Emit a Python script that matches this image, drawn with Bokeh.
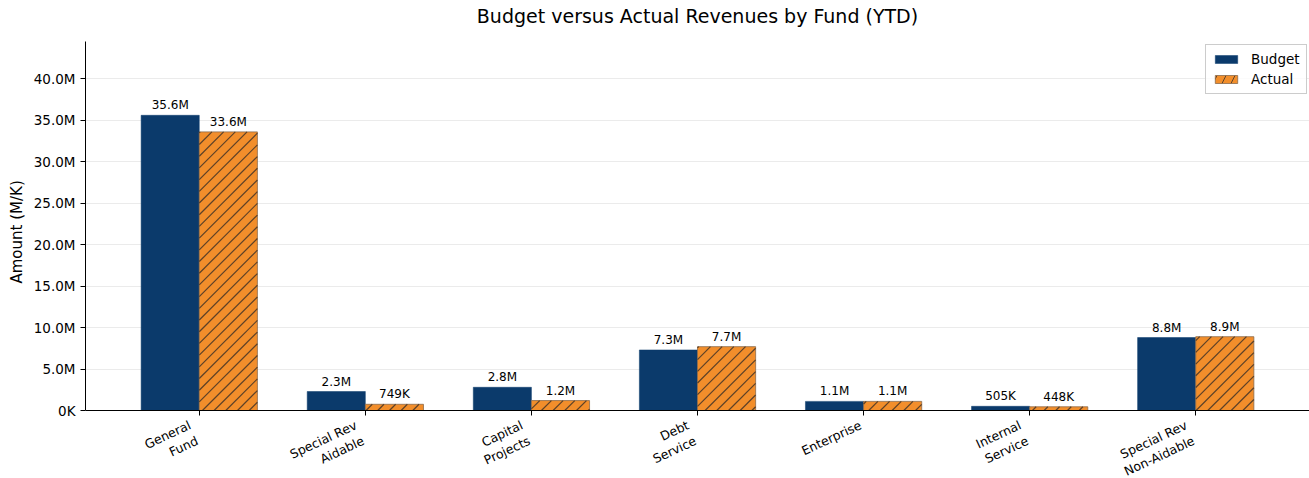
import numpy as np
from bokeh.plotting import figure
from bokeh.models import ColumnDataSource, FixedTicker, Range1d, Legend, LegendItem, Title
from bokeh.core.properties import value
from bokeh.embed import file_html
from bokeh.resources import INLINE

title_text = "Budget versus Actual Revenues by Fund (YTD)"
categories = ["General\nFund", "Special Rev\nAidable", "Capital\nProjects", "Debt\nService",
              "Enterprise", "Internal\nService", "Special Rev\nNon-Aidable"]
budget = [35.6e6, 2.29e6, 2.8e6, 7.3e6, 1.1e6, 0.505e6, 8.8e6]
actual = [33.6e6, 0.749e6, 1.2e6, 7.7e6, 1.1e6, 0.448e6, 8.9e6]
budget_labels = ["35.6M", "2.3M", "2.8M", "7.3M", "1.1M", "505K", "8.8M"]
actual_labels = ["33.6M", "749K", "1.2M", "7.7M", "1.1M", "448K", "8.9M"]
y_ticks = [0, 5e6, 10e6, 15e6, 20e6, 25e6, 30e6, 35e6, 40e6]
y_tick_labels = ["0K", "5.0M", "10.0M", "15.0M", "20.0M", "25.0M", "30.0M", "35.0M", "40.0M"]

FONT = "DejaVu Sans"
BUDGET_COLOR = "#0B3A6B"
ACTUAL_COLOR = "#F28E2B"
HATCH_COLOR = "#5c4128"
EDGE_COLOR = "#8a6a4a"
W = 0.35
Y_MAX = 44.5e6
X_MIN, X_MAX = -0.685, 6.685

# layout (pixels)
WIDTH, HEIGHT = 1309, 478
B_LEFT = 84
AXIS_TOP = 41                     # screen row where the y axis ends
AXIS_Y = 410                      # screen row of the zero line
PPX = (WIDTH - B_LEFT) / (X_MAX - X_MIN)
PPY = (AXIS_Y - AXIS_TOP) / Y_MAX
Y_MIN = -(HEIGHT - AXIS_Y) / PPY  # frame extends below zero to hold the tick labels
Y_TOP = Y_MAX + AXIS_TOP / PPY    # ...and above the axis to hold the title

x = np.arange(len(categories))
src = ColumnDataSource(dict(
    xb=x - W / 2, xa=x + W / 2, budget=budget, actual=actual,
    bl=budget_labels, al=actual_labels,
))

p = figure(width=WIDTH, height=HEIGHT, output_backend="svg", toolbar_location=None,
           x_range=Range1d(X_MIN, X_MAX), y_range=Range1d(Y_MIN, Y_TOP),
           min_border_left=B_LEFT, min_border_right=0, min_border_top=0,
           min_border_bottom=0)
p.outline_line_color = None

p.xgrid.grid_line_color = None
p.ygrid.grid_line_color = "#ebebeb"
p.ygrid.grid_line_width = 1

# chart title, centred over the plot area
p.text(x=[(X_MIN + X_MAX) / 2], y=[Y_MAX], text=[title_text], text_align="center",
       text_baseline="bottom", y_offset=-14.5, text_font=value(FONT),
       text_font_size="19px", text_color="#000000")

rb = p.vbar(x="xb", top="budget", width=W, bottom=0, source=src,
            fill_color=BUDGET_COLOR, line_color=BUDGET_COLOR, line_width=0.5)
ra = p.vbar(x="xa", top="actual", width=W, bottom=0, source=src,
            fill_color=ACTUAL_COLOR, line_color=EDGE_COLOR, line_width=0.8)

# 45-degree hatch lines clipped to each "Actual" bar
SPACING = 11.7
hx0, hy0, hx1, hy1 = [], [], [], []
for xc, top in zip(x + W / 2, actual):
    left_px = (xc - W / 2 - X_MIN) * PPX
    right_px = (xc + W / 2 - X_MIN) * PPX
    h_px = top * PPY
    k0 = int(np.floor((left_px - h_px) / SPACING))
    k1 = int(np.ceil(right_px / SPACING))
    for k in range(k0, k1 + 1):
        c = k * SPACING
        v0 = max(0.0, left_px - c)
        v1 = min(h_px, right_px - c)
        if v1 - v0 > 0.5:
            hx0.append((c + v0) / PPX + X_MIN)
            hy0.append(v0 / PPY)
            hx1.append((c + v1) / PPX + X_MIN)
            hy1.append(v1 / PPY)
p.segment(x0=hx0, y0=hy0, x1=hx1, y1=hy1, line_color=HATCH_COLOR, line_width=1.2)

# legend proxy for the hatched series: zero-height bar at the first Actual position
ra_legend = p.vbar(x=[float(x[0] + W / 2)], top=[0.0], bottom=[0.0], width=W,
                   fill_color=ACTUAL_COLOR, line_color=EDGE_COLOR, line_width=0.8,
                   hatch_pattern="right_diagonal_line", hatch_color=HATCH_COLOR,
                   hatch_scale=18, hatch_weight=1.0)

p.text(x="xb", y="budget", text="bl", source=src, text_align="center",
       text_baseline="bottom", y_offset=-3, text_font=value(FONT),
       text_font_size="12px", text_color="#000000")
p.text(x="xa", y="actual", text="al", source=src, text_align="center",
       text_baseline="bottom", y_offset=-3, text_font=value(FONT),
       text_font_size="12px", text_color="#000000")

# x axis at zero, ticks only; category labels rotated and right-aligned
p.xaxis.fixed_location = 0
p.xaxis.ticker = FixedTicker(ticks=list(x))
p.xaxis.major_label_overrides = {int(i): "" for i in x}
p.xaxis.minor_tick_line_color = None
p.xaxis.major_tick_in = 0
p.xaxis.major_tick_out = 5
p.xaxis.axis_line_color = "#000000"
p.xaxis.major_tick_line_color = "#000000"

ANG = np.deg2rad(25)
XFS = 12.5
n_lines = np.array([c.count("\n") + 1 for c in categories])
block_h = XFS * (1.17 + 1.2 * (n_lines - 1))
lab_src = ColumnDataSource(dict(x=x, y=np.zeros(len(x)), text=categories,
                                xo=-block_h * np.sin(ANG)))
p.text(x="x", y="y", text="text", source=lab_src, angle=ANG, x_offset="xo", y_offset=7,
       text_align="right", text_baseline="top", text_font=value(FONT),
       text_font_size=f"{XFS}px", text_color="#000000", text_line_height=1.15)

p.yaxis.ticker = FixedTicker(ticks=y_ticks)
p.yaxis.bounds = (0, Y_MAX)
p.yaxis.major_label_overrides = {t: l for t, l in zip(y_ticks, y_tick_labels)}
p.yaxis.major_label_text_font = FONT
p.yaxis.major_label_text_font_size = "13.5px"
p.yaxis.major_label_text_color = "#000000"
p.yaxis.major_label_standoff = 5
p.yaxis.minor_tick_line_color = None
p.yaxis.major_tick_in = 0
p.yaxis.major_tick_out = 5
p.yaxis.axis_line_color = "#000000"
p.yaxis.major_tick_line_color = "#000000"

# y axis title, centred on the 0..max part of the axis
ylab = Title(text="Amount (M/K)", align="left", offset=HEIGHT - 283,
             vertical_align="bottom", standoff=10,
             text_font=FONT, text_font_size="15px", text_font_style="normal",
             text_color="#000000")
p.add_layout(ylab, "left")

LEG_TOP, LEG_H, LEG_LEFT = 46, 48, 1204
legend = Legend(items=[LegendItem(label="Budget", renderers=[rb]),
                       LegendItem(label="Actual", renderers=[ra_legend])],
                location=(LEG_LEFT - B_LEFT, HEIGHT - LEG_TOP - LEG_H))
legend.label_text_font = FONT
legend.label_text_font_size = "13.5px"
legend.label_text_color = "#000000"
legend.border_line_color = "#cccccc"
legend.border_line_alpha = 1
legend.background_fill_alpha = 0.8
legend.glyph_width = 28
legend.glyph_height = 10
legend.label_height = 16
legend.label_standoff = 11
legend.spacing = 4
legend.padding = 6
legend.margin = 0
p.add_layout(legend)

open("out.html", "w").write(file_html(p, INLINE))
